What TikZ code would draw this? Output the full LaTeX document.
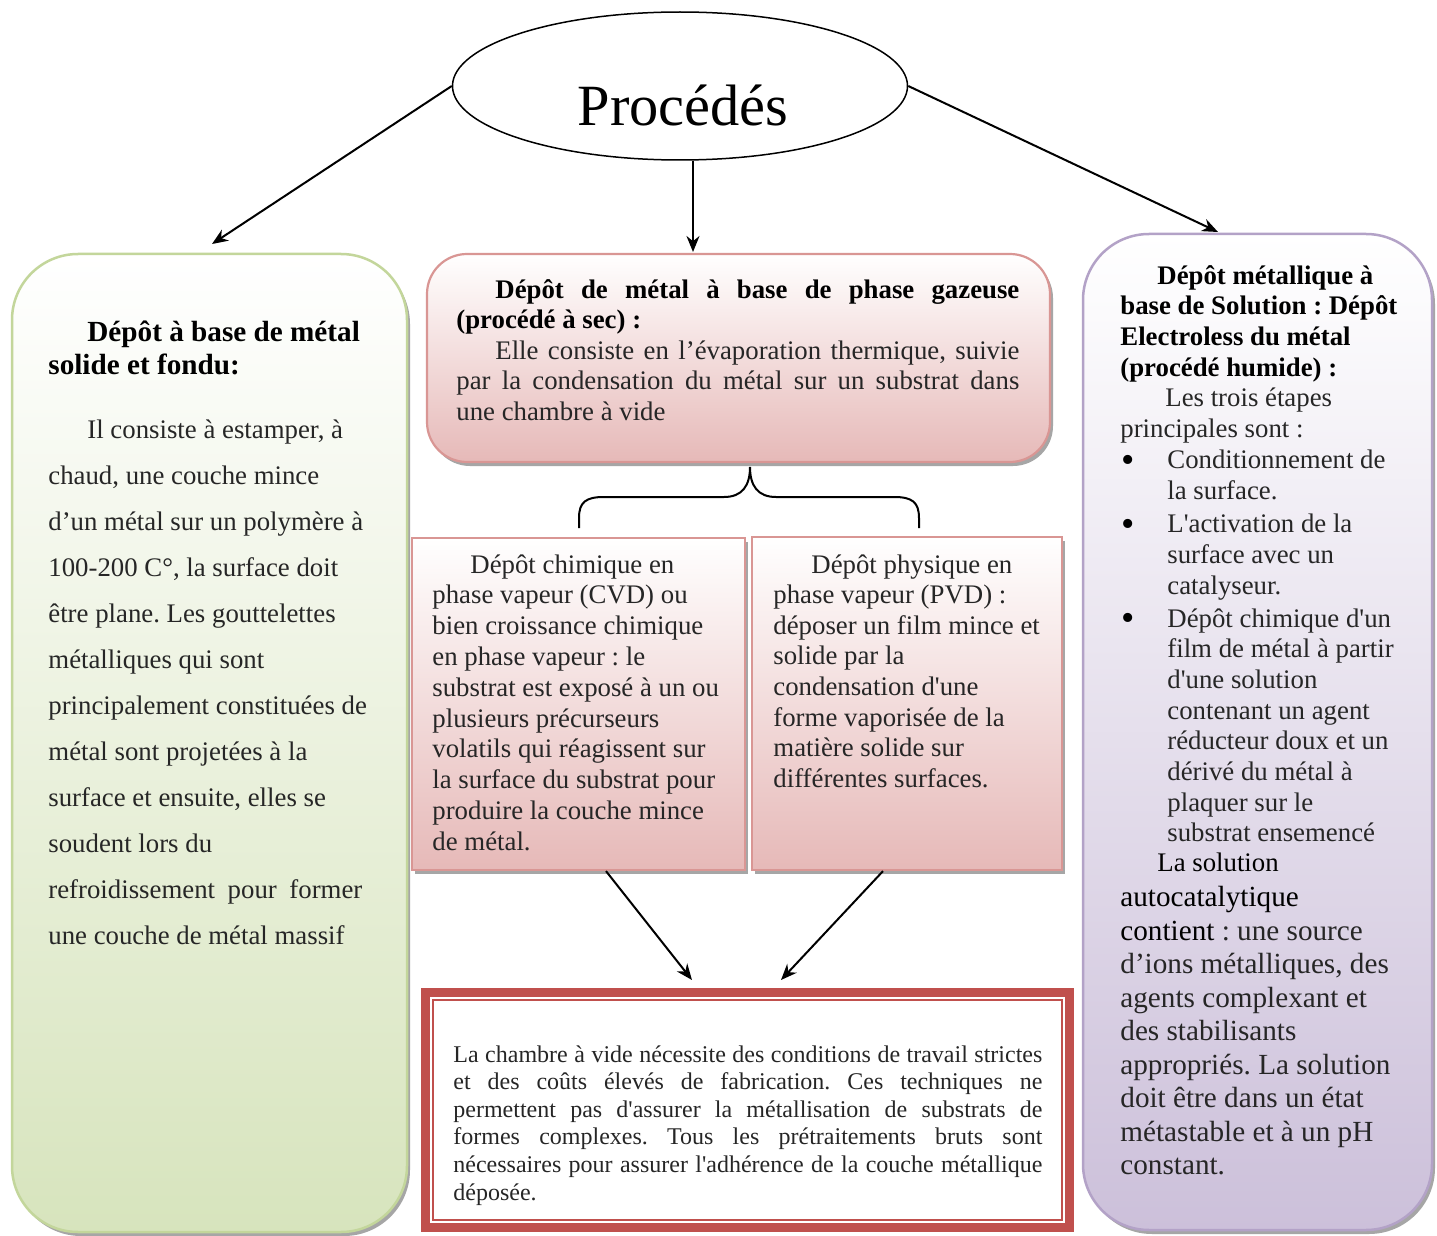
\documentclass[tikz,border=0pt]{standalone}
\usepackage{fontspec}
\setmainfont{Liberation Serif}[Ligatures=TeXOff]
\usetikzlibrary{shapes.geometric,arrows.meta,shadows}
\definecolor{greenbot}{HTML}{D7E4BD}
\definecolor{greenline}{HTML}{C3D69B}
\definecolor{pinkbot}{HTML}{E6B9B8}
\definecolor{pinkline}{HTML}{D99694}
\definecolor{purplebot}{HTML}{CCC0DA}
\definecolor{purpleline}{HTML}{B3A2C7}
\definecolor{framered}{HTML}{C0504D}
\definecolor{txtgray}{HTML}{262626}
\definecolor{shadowgray}{HTML}{A6A6A6}
\newcommand{\jline}[2]{\makebox[#1][s]{#2}}
\newcommand{\bigbul}{\makebox[23pt][l]{\raisebox{-1.6pt}{\color{black}\fontsize{19}{15}\selectfont •}}}
\frenchspacing
\begin{document}
\begin{tikzpicture}[x=0.5pt,y=-0.5pt,
  boxshadow/.style={drop shadow={shadow xshift=1.5pt,shadow yshift=-2pt,fill=shadowgray,opacity=1}},
  greenbox/.style={draw=greenline,line width=1.25pt,top color=white,bottom color=greenbot,rounded corners=33pt,boxshadow,inner sep=0pt},
  pinkround/.style={draw=pinkline,line width=1.1pt,top color=white,bottom color=pinkbot,rounded corners=20pt,boxshadow,inner sep=0pt},
  pinkrect/.style={draw=pinkline,line width=1.1pt,top color=white,bottom color=pinkbot,boxshadow,inner sep=0pt},
  purplebox/.style={draw=purpleline,line width=1.25pt,top color=white,bottom color=purplebot,rounded corners=33pt,boxshadow,inner sep=0pt},
  txt/.style={inner sep=0pt,anchor=north west,align=left,text=txtgray},
  arr/.style={-{Stealth[length=8pt,width=6.5pt]},line width=1pt,black},
]
\fill[white] (0,0) rectangle (1437,1236);
\useasboundingbox (0,0) rectangle (1437,1236);

% boxes
\node[greenbox, minimum width=197.5pt, minimum height=489pt] (left) at (209.5,743) {};
\node[pinkround, minimum width=311.5pt, minimum height=104pt] (gas) at (738.5,358) {};
\node[pinkrect, minimum width=166.5pt, minimum height=166pt] (cvd) at (578.5,704) {};
\node[pinkrect, minimum width=155pt, minimum height=166.5pt] (pvd) at (907,703.5) {};
\node[purplebox, minimum width=174.5pt, minimum height=498pt] (sol) at (1257.5,732) {};
\node[draw=framered, fill=white, line width=4.5pt, minimum width=322pt, minimum height=117.5pt, inner sep=0pt] (vide) at (747.5,1110) {};
\node[draw=framered, line width=1pt, minimum width=314.5pt, minimum height=110pt, inner sep=0pt] (videin) at (747.5,1110) {};

% title ellipse
\node[ellipse, draw, line width=0.75pt, fill=white, minimum width=227.5pt, minimum height=74pt] (proc) at (680,86) {};
\node[inner sep=0pt, font=\fontsize{29.2}{34}\selectfont] (title) at (683,105) {Procédés};

% arrows
\coordinate (aL) at (212,244);
\coordinate (aM) at (693,252);
\coordinate (aR) at (1218,232);
\coordinate (cvdout) at (606,870);
\coordinate (pvdout) at (883,870);
\coordinate (inL) at (692,980);
\coordinate (inR) at (781,980);
\draw[arr] (proc.west) -- (aL);
\draw[arr] (aM |- proc.south) -- (aM);
\draw[arr] (proc.east) -- (aR);
\draw[arr] (cvdout |- cvd.south) -- (inL);
\draw[arr] (pvdout |- pvd.south) -- (inR);

% brace
\draw[line width=1pt] (579,528) -- (579,518) .. controls (579,502) and (586,497) .. (604,497) -- (724,497) .. controls (742,497) and (750,486) .. (750,467) .. controls (750,486) and (758,497) .. (776,497) -- (894,497) .. controls (912,497) and (919,502) .. (919,518) -- (919,528);

% left box text
\node[txt, text=black, font=\bfseries\fontsize{14.6}{16.5}\selectfont] (lefthead) at (48,321)
  {\hspace*{19.5pt}Dépôt à base de métal\\solide et fondu:};
\node[txt, font=\fontsize{13.4}{23}\selectfont] (lefttxt) at (48,419)
  {\hspace*{19.5pt}Il consiste à estamper, à\\
   chaud, une couche mince\\
   d’un métal sur un polymère à\\
   100-200 C°, la surface doit\\
   être plane. Les gouttelettes\\
   métalliques qui sont\\
   principalement constituées de\\
   métal sont projetées à la\\
   surface et ensuite, elles se\\
   soudent lors du\\
   \jline{157pt}{refroidissement pour former}\\
   une couche de métal massif};

% gas box text
\node[txt, font=\fontsize{13.4}{15.25}\selectfont] (gastxt) at (456,279)
  {\hspace*{19.5pt}\jline{262pt}{\bfseries\color{black}Dépôt de métal à base de phase gazeuse}\\
   {\bfseries\color{black}(procédé à sec) :}\\
   \hspace*{19.5pt}\jline{262pt}{Elle consiste en l’évaporation thermique, suivie}\\
   \jline{281.5pt}{par la condensation du métal sur un substrat dans}\\
   une chambre à vide};

% CVD text
\node[txt, font=\fontsize{13.4}{15.4}\selectfont] (cvdtxt) at (432,554)
  {\hspace*{19pt}Dépôt chimique en\\
   phase vapeur (CVD) ou\\
   bien croissance chimique\\
   en phase vapeur : le\\
   substrat est exposé à un ou\\
   plusieurs précurseurs\\
   volatils qui réagissent sur\\
   la surface du substrat pour\\
   produire la couche mince\\
   de métal.};

% PVD text
\node[txt, font=\fontsize{13.4}{15.3}\selectfont] (pvdtxt) at (773,554)
  {\hspace*{19pt}Dépôt physique en\\
   phase vapeur (PVD) :\\
   déposer un film mince et\\
   solide par la\\
   condensation d'une\\
   forme vaporisée de la\\
   matière solide sur\\
   différentes surfaces.};

% bottom text
\node[txt, font=\fontsize{12}{13.8}\selectfont] (videtxt) at (453,1045)
  {\jline{294.5pt}{La chambre à vide nécessite des conditions de travail strictes}\\
   \jline{294.5pt}{et des coûts élevés de fabrication. Ces techniques ne}\\
   \jline{294.5pt}{permettent pas d'assurer la métallisation de substrats de}\\
   \jline{294.5pt}{formes complexes. Tous les prétraitements bruts sont}\\
   \jline{294.5pt}{nécessaires pour assurer l'adhérence de la couche métallique}\\
   déposée.};

% right box text
\node[txt, font=\fontsize{13.4}{15.3}\selectfont] (soltxt) at (1120,265)
  {{\bfseries\color{black}\hspace*{18.5pt}Dépôt métallique à}\\
   {\bfseries\color{black}base de Solution : Dépôt}\\
   {\bfseries\color{black}Electroless du métal}\\
   {\bfseries\color{black}(procédé humide) :}\\
   \hspace*{22.5pt}Les trois étapes\\
   principales sont :};
\node[txt, font=\fontsize{13.4}{15.3}\selectfont] (item1) at (1121,450)
  {\bigbul Conditionnement de\\
   \hspace*{23pt}la surface.};
\node[txt, font=\fontsize{13.4}{15.3}\selectfont] (item2) at (1121,514)
  {\bigbul L'activation de la\\
   \hspace*{23pt}surface avec un\\
   \hspace*{23pt}catalyseur.};
\node[txt, font=\fontsize{13.4}{15.35}\selectfont] (item3) at (1121,608)
  {\bigbul Dépôt chimique d'un\\
   \hspace*{23pt}film de métal à partir\\
   \hspace*{23pt}d'une solution\\
   \hspace*{23pt}contenant un agent\\
   \hspace*{23pt}réducteur doux et un\\
   \hspace*{23pt}dérivé du métal à\\
   \hspace*{23pt}plaquer sur le\\
   \hspace*{23pt}substrat ensemencé};
\node[txt, text=black, font=\fontsize{13.4}{15.3}\selectfont] (solnote) at (1120,853)
  {\hspace*{18.5pt}La solution};
\node[txt, font=\fontsize{14.6}{16.75}\selectfont] (soltxt2) at (1120,886)
  {{\color{black}autocatalytique}\\
   {\color{black}contient} : une source\\
   d’ions métalliques, des\\
   agents complexant et\\
   des stabilisants\\
   appropriés. La solution\\
   doit être dans un état\\
   métastable et à un pH\\
   constant.};
\end{tikzpicture}
\end{document}
